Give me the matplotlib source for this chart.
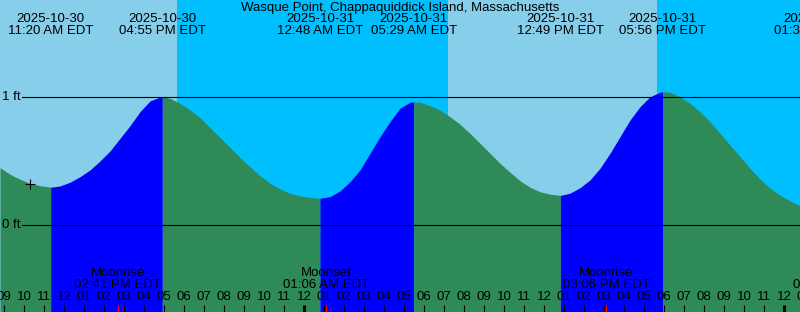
import pandas as pd
import matplotlib
matplotlib.use("Agg")
import matplotlib.pyplot as plt

plt.rcParams["font.family"] = ["Liberation Sans", "DejaVu Sans"]

TITLE = "Wasque Point, Chappaquiddick Island, Massachusetts"
T0    = pd.Timestamp("2025-10-30 09:00")   # first hour tick
VIEW  = ("2025-10-30 08:48", "2025-11-01 00:48")

DAY_SKY   = "#87CEEB"
NIGHT_SKY = "#00BFFF"
FLOOD     = "#0000FF"
EBB       = "#2E8B57"
FS        = 9.5

# ── Data ─────────────────────────────────────────────────────────────────────
# tide height (ft) every 30 min, from 08:48 Oct 30 to 00:48 Nov 1
curve_start = "2025-10-30 08:48"
curve_step_min = 30
curve_ft = [0.448, 0.396, 0.357, 0.326, 0.307, 0.297, 0.305, 0.334, 0.377, 0.430,
            0.500, 0.578, 0.677, 0.776, 0.885, 0.969, 1.000, 0.990, 0.951, 0.898,
            0.838, 0.760, 0.682, 0.604, 0.526, 0.455, 0.385, 0.326, 0.281, 0.248,
            0.227, 0.216, 0.209, 0.221, 0.266, 0.338, 0.430, 0.560, 0.690, 0.807,
            0.912, 0.959, 0.959, 0.932, 0.898, 0.846, 0.787, 0.716, 0.638, 0.560,
            0.482, 0.412, 0.346, 0.295, 0.260, 0.240, 0.232, 0.248, 0.291, 0.352,
            0.443, 0.560, 0.690, 0.820, 0.924, 1.002, 1.037, 1.037, 1.002, 0.951,
            0.885, 0.807, 0.716, 0.625, 0.534, 0.443, 0.359, 0.287, 0.234, 0.188,
            0.151]

tide_times = ["2025-10-30 11:20", "2025-10-30 16:55", "2025-10-31 00:48",
              "2025-10-31 05:29", "2025-10-31 12:49", "2025-10-31 17:56",
              "2025-11-01 01:39"]
tide_kind  = ["Low", "High", "Low", "High", "Low", "High", "Low"]
tide_ft    = [0.295, 1.002, 0.208, 0.962, 0.231, 1.041, 0.12]

sun_times = ["2025-10-30 17:39", "2025-10-31 07:11", "2025-10-31 17:39"]
sun_kind  = ["Sunset", "Sunrise", "Sunset"]

moon_times = ["2025-10-30 14:41", "2025-10-31 01:06",
              "2025-10-31 15:06", "2025-11-01 02:35"]
moon_kind  = ["Moonrise", "Moonset", "Moonrise", "Moonset"]

mark_time = "2025-10-30 10:18"
mark_ft   = 0.32


def hours(t):
    """Timestamp (or string) -> hours since T0."""
    return (pd.Timestamp(t) - T0) / pd.Timedelta(hours=1)


x0, x1 = hours(VIEW[0]), hours(VIEW[1])
Y_BOT, Y_TOP = -0.680, 1.758

# sampled curve + the extremes, in time order
t_first = hours(curve_start)
pts = [(t_first + i * curve_step_min / 60, v) for i, v in enumerate(curve_ft)]
pts += [(hours(t), v) for t, v in zip(tide_times, tide_ft)]
pts.sort()
cx = [p[0] for p in pts]
cy = [p[1] for p in pts]

fig = plt.figure(figsize=(8, 3.12), dpi=100)
ax = fig.add_axes([0, 0, 1, 1])
ax.set_xlim(x0, x1)
ax.set_ylim(Y_BOT, Y_TOP)
ax.set_axis_off()

# ── Sky: day / night ─────────────────────────────────────────────────────────
edges = [x0] + [hours(t) for t in sun_times] + [x1]
is_day = sun_kind[0] == "Sunset"
for a, b in zip(edges[:-1], edges[1:]):
    ax.axvspan(a, b, color=DAY_SKY if is_day else NIGHT_SKY, lw=0, zorder=0)
    is_day = not is_day

# ── Water: rising blue, falling green ────────────────────────────────────────
bounds = [x0] + [hours(t) for t in tide_times]
for i, (a, b) in enumerate(zip(bounds[:-1], bounds[1:])):
    seg = [(x, y) for x, y in zip(cx, cy) if a <= x <= b]
    if len(seg) < 2:
        continue
    color = FLOOD if tide_kind[i] == "High" else EBB
    ax.fill_between([s[0] for s in seg], [s[1] for s in seg], Y_BOT,
                    color=color, lw=0, zorder=1)

# ── Datum lines ──────────────────────────────────────────────────────────────
for ft in (0, 1):
    ax.axhline(ft, xmin=22 / 800, xmax=1, color="black", lw=0.8, zorder=3)
    ax.text(2 / 800, ft, f"{ft} ft", transform=ax.get_yaxis_transform(),
            ha="left", va="center", fontsize=FS, zorder=4)

ax.plot([hours(mark_time)], [mark_ft], marker="+", color="black",
        markersize=6.5, mew=0.8, zorder=4)

# ── Top labels ───────────────────────────────────────────────────────────────
xt = ax.get_xaxis_transform()
ax.text((x0 + x1) / 2, 1 - 7.5 / 312, TITLE, transform=xt,
        ha="center", va="center", fontsize=FS)
for t in tide_times:
    ts = pd.Timestamp(t)
    ax.text(hours(t), 1 - 19.5 / 312, ts.strftime("%Y-%m-%d"), transform=xt,
            ha="center", va="center", fontsize=FS, clip_on=False)
    ax.text(hours(t), 1 - 31.5 / 312, ts.strftime("%I:%M %p EDT"), transform=xt,
            ha="center", va="center", fontsize=FS, clip_on=False)

# ── Bottom: hour ticks and moon events ───────────────────────────────────────
for k in range(0, 41):
    ts = T0 + pd.Timedelta(hours=k)
    midnight = ts.hour == 0
    ax.plot([k, k], [0, 7 / 312], transform=xt, color="black",
            lw=2.2 if midnight else 0.8, solid_capstyle="butt", zorder=4)
    ax.text(k, 1 - 297 / 312, ts.strftime("%I"), transform=xt,
            ha="center", va="center", fontsize=FS, zorder=4)

for t, kind in zip(moon_times, moon_kind):
    h = hours(t)
    ax.plot([h, h], [0, 7 / 312], transform=xt, color="red", lw=0.8,
            solid_capstyle="butt", zorder=5)
    ax.text(h, 1 - 273.5 / 312, kind, transform=xt,
            ha="center", va="center", fontsize=FS, zorder=4)
    ax.text(h, 1 - 285.5 / 312, pd.Timestamp(t).strftime("%I:%M %p EDT"),
            transform=xt, ha="center", va="center", fontsize=FS, zorder=4)

fig.savefig("out.png", dpi=100)
